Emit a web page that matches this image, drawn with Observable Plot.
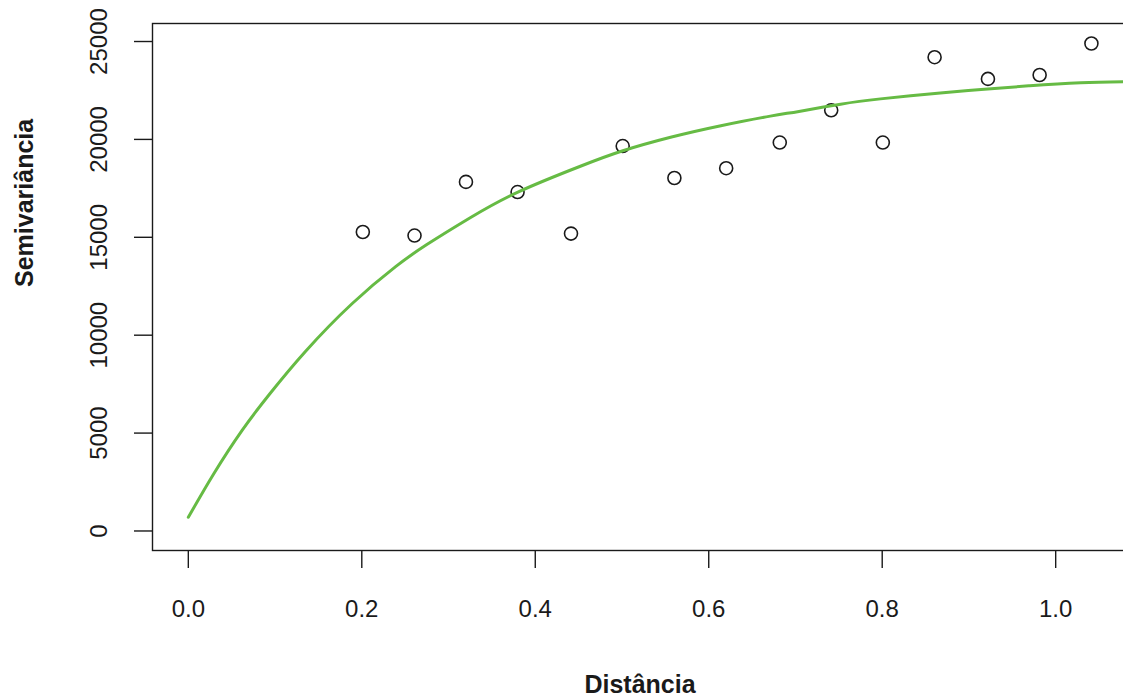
<!DOCTYPE html>
<html>
<head>
<meta charset="utf-8">
<script src="https://cdn.jsdelivr.net/npm/d3@7"></script>
<script src="https://cdn.jsdelivr.net/npm/@observablehq/plot@0.6"></script>
<style>
  html, body { margin: 0; padding: 0; background: #fff; overflow: hidden; }
  #chart svg { display: block; }
</style>
</head>
<body>
<div id="chart"></div>
<script>
// Empirical semivariogram (distance lags and semivariance)
const lagDist = [0.2012, 0.2608, 0.3201, 0.3796, 0.4412, 0.5008, 0.5604, 0.6201, 0.6819, 0.7412, 0.8007, 0.8604, 0.9219, 0.9815, 1.0412];
const semivar = [15270, 15090, 17830, 17310, 15190, 19660, 18030, 18530, 19840, 21490, 19840, 24200, 23090, 23290, 24900];

// Fitted model curve
const curveDist = [0.0, 0.029, 0.062, 0.094, 0.135, 0.189, 0.239, 0.275, 0.325, 0.380, 0.452, 0.501, 0.556, 0.614, 0.671, 0.704, 0.752, 0.798, 0.867, 0.914, 0.970, 1.029, 1.083];
const curveGamma = [700, 2900, 5140, 7010, 9170, 11620, 13500, 14630, 16000, 17310, 18630, 19420, 20110, 20700, 21190, 21430, 21800, 22070, 22370, 22550, 22740, 22890, 22950];

const xTicks = [0.0, 0.2, 0.4, 0.6, 0.8, 1.0];
const yTicks = [0, 5000, 10000, 15000, 20000, 25000];
const xTitle = "Distância";
const yTitle = "Semivariância";

const points = lagDist.map((d, i) => ({dist: d, gamma: semivar[i]}));
const curve = curveDist.map((d, i) => ({dist: d, gamma: curveGamma[i]}));

const font = "Liberation Sans, Arial, sans-serif";
const ink = "#1a1a1a";

const chart = Plot.plot({
  width: 1123,
  height: 700,
  marginLeft: 152,
  marginRight: -4,
  marginTop: 23,
  marginBottom: 150,
  style: {fontFamily: font, color: ink, background: "#fff"},
  x: {domain: [-0.0413, 1.0828]},
  y: {domain: [-997, 25920]},
  marks: [
    Plot.frame({stroke: ink, strokeWidth: 1.4}),
    Plot.axisX(xTicks, {
      tickSize: 18, tickPadding: 31, fontSize: 24, stroke: ink, strokeWidth: 1.4,
      tickFormat: d3.format(".1f"), label: null, fill: ink
    }),
    Plot.axisY(yTicks, {
      tickSize: 18, stroke: ink, strokeWidth: 1.4,
      tickFormat: () => "", label: null
    }),
    Plot.text(yTicks, {
      y: d => d, text: d => d3.format("d")(d), frameAnchor: "left", dx: -53.5,
      rotate: -90, textAnchor: "middle", lineAnchor: "middle",
      fontSize: 24, fill: ink
    }),
    Plot.text([xTitle], {
      text: d => d, frameAnchor: "bottom", dy: 134, lineAnchor: "middle",
      fontSize: 25, fontWeight: "bold", fill: ink
    }),
    Plot.text([yTitle], {
      text: d => d, frameAnchor: "left", dx: -128, rotate: -90, lineAnchor: "middle",
      fontSize: 25, fontWeight: "bold", fill: ink
    }),
    Plot.dot(points, {x: "dist", y: "gamma", r: 6.5, stroke: ink, strokeWidth: 1.6, fill: "none"}),
    Plot.line(curve, {x: "dist", y: "gamma", stroke: "#66bb44", strokeWidth: 3, curve: "natural"})
  ]
});
document.getElementById("chart").appendChild(chart);
</script>
</body>
</html>
